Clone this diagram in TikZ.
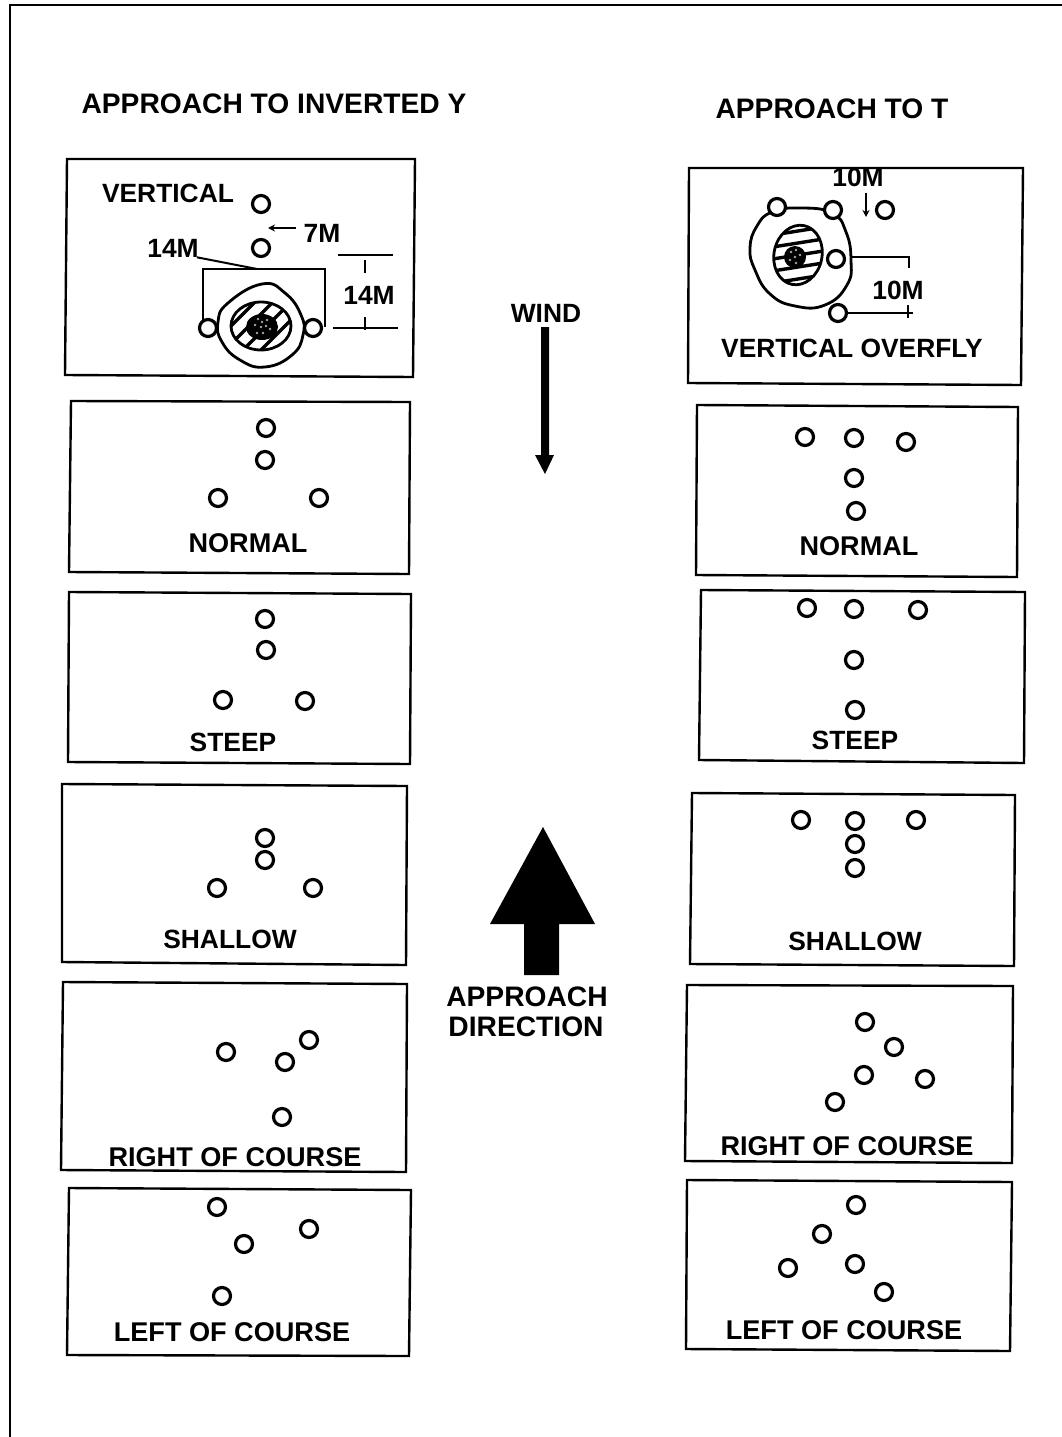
\documentclass[tikz,border=0pt]{standalone}
\usepackage{fontspec}
\setmainfont{Liberation Sans}
\newfontfamily\lblfont{Liberation Sans Bold}
\newfontfamily\ttlfont{Liberation Sans Bold}
\usetikzlibrary{arrows.meta}
\tikzset{
  x=1pt,y=-1pt,
  ring/.style={circle,draw=black,fill=white,line width=3.2pt,minimum size=17pt,inner sep=0pt},
  panel/.style={draw=black,line width=2.4pt,line join=miter},
  lbl/.style={font=\lblfont\fontsize{26.4}{28}\selectfont,inner sep=0pt,text=black},
  lblwide/.style={font=\lblfont\fontsize{27.1}{28}\selectfont,inner sep=0pt,text=black},
  ttl/.style={font=\ttlfont\fontsize{28.2}{29}\selectfont,inner sep=0pt,text=black},
  dim/.style={draw=black,line width=2pt},
  blob/.style={draw=black,line width=2.8pt},
  hatch/.style={draw=black,line width=3.4pt},
  tiny/.style={-{Stealth[length=7pt,width=7pt]},draw=black,line width=2pt}
}
\begin{document}
\begin{tikzpicture}
\useasboundingbox (0,0) rectangle (1062,1437);
\fill[white] (0,0) rectangle (1062,1437);
% page frame
\draw[black,line width=2pt] (9.5,1437) -- (9.5,5.5) -- (1062,5.5);

% titles
\node[ttl] (titleL) at (274,104) {APPROACH TO INVERTED Y};
\node[ttl] (titleR) at (832,109) {APPROACH TO T};

% panels, left
\draw[panel] (67,159) -- (415,159) -- (413,377) -- (65,375) -- cycle;
\draw[panel] (71,401) -- (410,402) -- (409,574) -- (69,572) -- cycle;
\draw[panel] (69,592) -- (411,594) -- (410,764) -- (68,762) -- cycle;
\draw[panel] (62,784) -- (407,786) -- (406,965) -- (62,962) -- cycle;
\draw[panel] (63,982) -- (407,984) -- (406,1172) -- (61,1170) -- cycle;
\draw[panel] (69,1188) -- (411,1190) -- (409,1356) -- (67,1355) -- cycle;
% panels, right
\draw[panel] (689,168) -- (1023,168) -- (1021,385) -- (688,383) -- cycle;
\draw[panel] (697,405) -- (1018,407) -- (1017,577) -- (696,575) -- cycle;
\draw[panel] (701,590) -- (1025,592) -- (1024,763) -- (699,760) -- cycle;
\draw[panel] (692,793) -- (1015,795) -- (1014,966) -- (690,964) -- cycle;
\draw[panel] (687,985) -- (1013,986) -- (1012,1163) -- (685,1161) -- cycle;
\draw[panel] (687,1180) -- (1012,1182) -- (1010,1351) -- (686,1349) -- cycle;

% left detail: target
\draw[blob] plot[smooth cycle,tension=0.8] coordinates {(262,284) (285,293) (301,315) (303,335) (292,355) (265,367) (240,360) (222,342) (218,322) (228,303)};
\begin{scope}
  \clip (261,326) ellipse [x radius=30,y radius=24];
  \foreach \k in {-48,-30,-12,6,24,42}
    \draw[hatch] (261+\k-40,366) -- (261+\k+40,286);
\end{scope}
\draw[blob] (261,326) ellipse [x radius=30,y radius=24];
\fill[black] (262,327) ellipse [x radius=16,y radius=13];
\foreach \p/\q in {258/319,262/322,267/320,261/327,266/326,270/329,257/333,263/333,255/325}
  \fill[white!65!black] (\p,\q) circle [radius=1.3];

% left detail: dimension lines
\coordinate (brL) at (203,269);
\coordinate (brM) at (257,269);
\coordinate (brR) at (325,269);
\coordinate (brLb) at (203,320);
\coordinate (brRb) at (325,327);
\draw[dim] (brLb) -- (brL) -- (brR) -- (brRb);
\node[lbl] (l14a) at (173,248) {14M};
\draw[dim] (l14a.south east) ++(-2,0) coordinate (lead) -- (brM);
\node[lbl] (l7) at (322,233) {7M};
\coordinate (tip7) at (268,228);
\draw[tiny] (l7.west) ++(-7,-5) coordinate (tail7) -- (tip7);
\coordinate (tt1) at (338,255); \coordinate (tt2) at (393,255);
\coordinate (bb1) at (333,328); \coordinate (bb2) at (398,328);
\draw[dim] (tt1) -- (tt2);
\draw[dim] (bb1) -- (bb2);
\node[lbl] (l14b) at (369,295) {14M};
\coordinate (ttd) at (365,260); \coordinate (ttd2) at (365,273);
\coordinate (bbd) at (365,317); \coordinate (bbd2) at (365,330);
\draw[dim] (ttd) -- (ttd2);
\draw[dim] (bbd) -- (bbd2);
\node[lbl] (lvert) at (168,193) {VERTICAL};

% left rings
\node[ring] (a1) at (261,204) {};
\node[ring] (a2) at (261,248) {};
\node[ring] (a3) at (208,328) {};
\node[ring] (a4) at (313,328) {};
\node[ring] (b1) at (266,428) {};
\node[ring] (b2) at (265,460) {};
\node[ring] (b3) at (218,498) {};
\node[ring] (b4) at (319,498) {};
\node[ring] (c1) at (265,619) {};
\node[ring] (c2) at (266,650) {};
\node[ring] (c3) at (223,700) {};
\node[ring] (c4) at (305,701) {};
\node[ring] (d1) at (265,838) {};
\node[ring] (d2) at (265,860) {};
\node[ring] (d3) at (217,888) {};
\node[ring] (d4) at (313,888) {};
\node[ring] (e1) at (226,1052) {};
\node[ring] (e2) at (309,1040) {};
\node[ring] (e3) at (285,1062) {};
\node[ring] (e4) at (282,1117) {};
\node[ring] (f1) at (217,1207) {};
\node[ring] (f2) at (309,1229) {};
\node[ring] (f3) at (244,1244) {};
\node[ring] (f4) at (222,1296) {};

% left labels
\node[lblwide] (n1) at (248,543) {NORMAL};
\node[lbl] (n2) at (233,742) {STEEP};
\node[lbl] (n3) at (230,939) {SHALLOW};
\node[lblwide] (n4) at (235,1157) {RIGHT OF COURSE};
\node[lblwide] (n5) at (232,1332) {LEFT OF COURSE};

% right detail: target
\draw[blob] plot[smooth cycle,tension=0.8] coordinates {(772,212) (800,208) (832,213) (846,232) (851,260) (847,285) (825,305) (795,306) (770,294) (755,270) (750,248) (757,226)};
\begin{scope}
  \clip[rotate around={-12:(798,255)}] (798,255) ellipse [x radius=24,y radius=30];
  \foreach \k in {-36,-24,-12,0,12,24,36}
    \draw[hatch] (760,255+\k+6) -- (836,255+\k-6);
\end{scope}
\draw[blob,rotate around={-12:(798,255)}] (798,255) ellipse [x radius=24,y radius=30];
\fill[black] (795,257) circle [radius=11];
\foreach \p/\q in {791/252,796/250,800/255,795/257,790/260,796/263}
  \fill[white!65!black] (\p,\q) circle [radius=1.3];

% right detail: dimension lines
\begin{scope}
  \clip (680,168) rectangle (1030,400);
  \node[lbl] (m10a) at (858,177) {10M};
\end{scope}
\coordinate (tip10) at (866,217);
\draw[tiny] (m10a.south -| tip10) ++(0,6) coordinate (tail10) -- (tip10);
\coordinate (s1) at (850,257); \coordinate (s2) at (909,257); \coordinate (s3) at (909,268);
\draw[dim] (s1) -- (s2) -- (s3);
\node[lbl] (m10b) at (898,290) {10M};
\coordinate (u1) at (845,313); \coordinate (u2) at (913,313);
\draw[dim] (u1) -- (u2);
\coordinate (v1) at (908,305); \coordinate (v2) at (908,318);
\draw[dim] (v1) -- (v2);
\node[lbl] (mvert) at (852,348) {VERTICAL OVERFLY};

% right rings
\node[ring] (p1) at (777,207) {};
\node[ring] (p2) at (833,210) {};
\node[ring] (p3) at (885,210) {};
\node[ring] (p4) at (836,259) {};
\node[ring] (p5) at (838,313) {};
\node[ring] (q1) at (805,437) {};
\node[ring] (q2) at (854,438) {};
\node[ring] (q3) at (906,442) {};
\node[ring] (q4) at (854,478) {};
\node[ring] (q5) at (856,511) {};
\node[ring] (r1) at (807,608) {};
\node[ring] (r2) at (854,609) {};
\node[ring] (r3) at (918,610) {};
\node[ring] (r4) at (854,660) {};
\node[ring] (r5) at (855,710) {};
\node[ring] (s1n) at (801,820) {};
\node[ring] (s2n) at (855,821) {};
\node[ring] (s3n) at (916,820) {};
\node[ring] (s4n) at (855,844) {};
\node[ring] (s5n) at (855,868) {};
\node[ring] (t1) at (865,1022) {};
\node[ring] (t2) at (894,1047) {};
\node[ring] (t3) at (864,1075) {};
\node[ring] (t4) at (925,1079) {};
\node[ring] (t5) at (835,1102) {};
\node[ring] (w1) at (856,1205) {};
\node[ring] (w2) at (822,1234) {};
\node[ring] (w3) at (855,1264) {};
\node[ring] (w4) at (788,1268) {};
\node[ring] (w5) at (884,1292) {};

% right labels
\node[lblwide] (o1) at (859,546) {NORMAL};
\node[lbl] (o2) at (855,740) {STEEP};
\node[lbl] (o3) at (855,941) {SHALLOW};
\node[lblwide] (o4) at (847,1146) {RIGHT OF COURSE};
\node[lblwide] (o5) at (844,1330) {LEFT OF COURSE};

% wind arrow
\node[lbl] (wind) at (546,313) {WIND};
\fill[black] (541,327) -- (549,327) -- (549,455) -- (554,455) -- (545,474) -- (535,455) -- (541,455) -- cycle;

% approach arrow
\fill[black] (543,827) -- (595,924) -- (559,924) -- (559,975) -- (524,975) -- (524,924) -- (490,924) -- cycle;
\node[ttl] (app1) at (527,997) {APPROACH};
\node[ttl] (app2) at (526,1027) {DIRECTION};
\end{tikzpicture}
\end{document}
